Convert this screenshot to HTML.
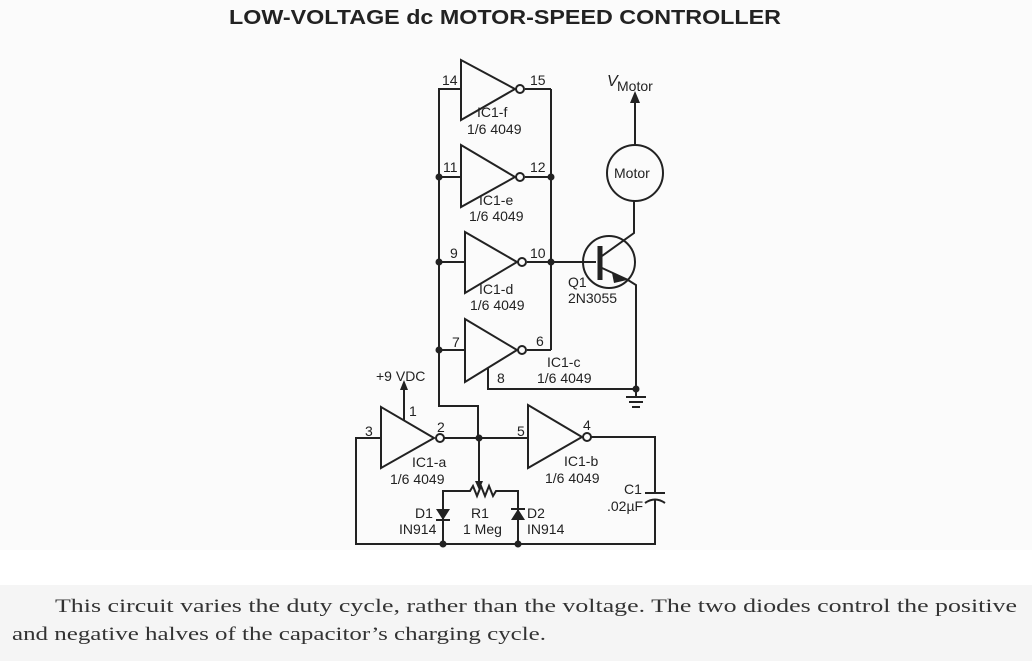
<!DOCTYPE html>
<html><head><meta charset="utf-8"><style>
html,body{margin:0;padding:0;width:1032px;height:661px;overflow:hidden;background:#fbfbfb}
svg{display:block}
</style></head><body>
<svg width="1032" height="661" viewBox="0 0 1032 661" xmlns="http://www.w3.org/2000/svg">
<rect x="0" y="0" width="1032" height="550" fill="#fbfbfb"/>
<rect x="0" y="550" width="1032" height="35" fill="#ffffff"/>
<rect x="0" y="585" width="1032" height="76" fill="#f5f5f5"/>
<text x="505" y="24" text-anchor="middle" font-family="Liberation Sans, sans-serif" font-weight="bold" font-size="20" fill="#222" textLength="552" lengthAdjust="spacingAndGlyphs">LOW-VOLTAGE dc MOTOR-SPEED CONTROLLER</text>

<g stroke="#222" stroke-width="2" fill="none">
<polyline points="461,89 439,89 439,406 478,406 478,438"/>
<line x1="551" y1="89" x2="551" y2="350"/>
<line x1="525" y1="89" x2="551" y2="89"/>
<line x1="439" y1="177" x2="461" y2="177"/>
<line x1="525" y1="177" x2="551" y2="177"/>
<line x1="439" y1="262" x2="465" y2="262"/>
<line x1="527" y1="262" x2="596" y2="262"/>
<line x1="439" y1="350" x2="465" y2="350"/>
<line x1="527" y1="350" x2="551" y2="350"/>
<polygon points="461,60 461,120 515,89"/>
<circle cx="520" cy="89" r="4"/>
<polygon points="461,145 461,207 515,177"/>
<circle cx="520" cy="177" r="4"/>
<polygon points="465,232 465,293 517,262"/>
<circle cx="522" cy="262" r="4"/>
<polygon points="465,319 465,382 517,350"/>
<circle cx="522" cy="350" r="4"/>
<polyline points="488,368 488,389 636,389"/>
<circle cx="609" cy="262" r="26"/>
<line x1="600" y1="246" x2="600" y2="280" stroke-width="5"/>
<polyline points="602,256 634,233 634,201"/>
<polyline points="602,268 628,280 636,285 636,389"/>
<circle cx="635" cy="173" r="28"/>
<line x1="635" y1="145" x2="635" y2="100"/>
<line x1="636" y1="389" x2="636" y2="396"/>
<line x1="626" y1="397" x2="646" y2="397"/>
<line x1="629" y1="402" x2="643" y2="402"/>
<line x1="632" y1="407" x2="640" y2="407"/>
<polygon points="381,407 381,468 434,438"/>
<circle cx="440" cy="438" r="4"/>
<line x1="444" y1="438" x2="528" y2="438"/>
<polygon points="528,405 528,468 582,437"/>
<circle cx="587" cy="437" r="4"/>
<polyline points="591,437 655,437 655,493"/>
<line x1="645" y1="493" x2="665" y2="493"/>
<path d="M645,503 Q655,496 665,503"/>
<polyline points="655,499 655,544 356,544 356,438 381,438"/>
<line x1="404" y1="420" x2="404" y2="388"/>
<line x1="479" y1="438" x2="479" y2="484"/>
<polyline points="443,544 443,491 470,491 473,486 477,496 481,486 485,496 489,486 493,496 496,491 518,491 518,544"/>
<line x1="436" y1="520" x2="450" y2="520"/>
<line x1="511" y1="509" x2="525" y2="509"/>
</g>
<g fill="#222">
<polygon points="635,91 630,103 640,103"/>
<polygon points="404,380 400,390 408,390"/>
<polygon points="479,490 475,481 483,481"/>
<polygon points="436,509 450,509 443,520"/>
<polygon points="511,520 525,520 518,509"/>
<circle cx="439" cy="177" r="3.5"/><circle cx="551" cy="177" r="3.5"/>
<circle cx="439" cy="262" r="3.5"/><circle cx="551" cy="262" r="3.5"/>
<circle cx="439" cy="350" r="3.5"/><circle cx="636" cy="389" r="3.5"/>
<circle cx="479" cy="438" r="3.5"/>
<circle cx="443" cy="544" r="3.5"/><circle cx="518" cy="544" r="3.5"/>
<polygon points="612,273 627,280 614,283"/>
</g>
<g font-family="Liberation Sans, sans-serif" font-size="14" fill="#222">
<text x="442" y="85">14</text><text x="530" y="85">15</text>
<text x="477" y="117">IC1-f</text><text x="467" y="134">1/6 4049</text>
<text x="443" y="172">11</text><text x="530" y="172">12</text>
<text x="479" y="205">IC1-e</text><text x="469" y="221">1/6 4049</text>
<text x="450" y="258">9</text><text x="530" y="258">10</text>
<text x="479" y="294">IC1-d</text><text x="470" y="310">1/6 4049</text>
<text x="452" y="347">7</text><text x="536" y="346">6</text>
<text x="497" y="383">8</text>
<text x="547" y="367">IC1-c</text><text x="537" y="383">1/6 4049</text>
<text x="568" y="287">Q1</text><text x="568" y="303">2N3055</text>
<text x="614" y="178">Motor</text>
<text x="607" y="86" font-style="italic" font-size="16">V</text><text x="617" y="91">Motor</text>
<text x="376" y="381">+9 VDC</text>
<text x="409" y="416">1</text><text x="437" y="432">2</text><text x="365" y="436">3</text>
<text x="517" y="436">5</text><text x="583" y="430">4</text>
<text x="412" y="467">IC1-a</text><text x="390" y="484">1/6 4049</text>
<text x="564" y="466">IC1-b</text><text x="545" y="483">1/6 4049</text>
<text x="415" y="518">D1</text><text x="399" y="534">IN914</text>
<text x="471" y="518">R1</text><text x="463" y="534">1 Meg</text>
<text x="527" y="518">D2</text><text x="527" y="534">IN914</text>
<text x="624" y="494">C1</text><text x="607" y="511">.02µF</text>
</g>
<g font-family="Liberation Serif, serif" font-size="19" fill="#333">
<text x="55" y="612" textLength="962" lengthAdjust="spacingAndGlyphs">This circuit varies the duty cycle, rather than the voltage. The two diodes control the positive</text>
<text x="12" y="640" textLength="534" lengthAdjust="spacingAndGlyphs">and negative halves of the capacitor’s charging cycle.</text>
</g>
</svg>
</body></html>
